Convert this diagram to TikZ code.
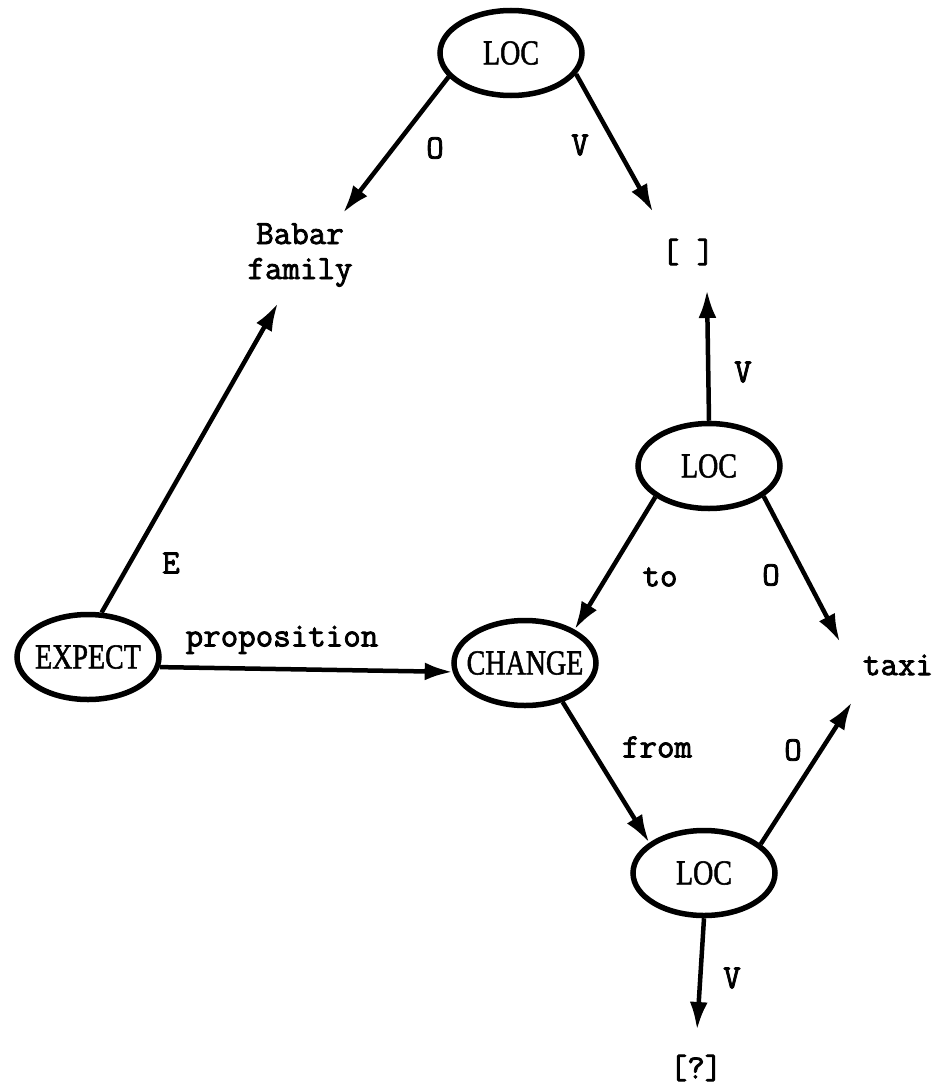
\documentclass[tikz,border=0pt]{standalone}
\usepackage{fontspec}
\usepackage{graphicx}
\setmainfont[FakeBold=1.6]{Liberation Serif}
\newfontfamily\twfont[FakeBold=2.4]{Latin Modern Mono}
\usetikzlibrary{arrows.meta,shapes.geometric}
\begin{document}
\begin{tikzpicture}[x=1pt,y=-1pt,
  state/.style={ellipse, draw, line width=5.5pt, minimum width=142pt, minimum height=85pt, inner sep=0pt,
    font=\fontsize{35}{38}\selectfont},
  word/.style={inner sep=0pt, font=\twfont\fontsize{34}{35}\selectfont, align=center},
  conn/.style={line width=4.5pt, -{Latex[length=28pt,width=18pt]}},
  bare/.style={line width=4.5pt}
]
\useasboundingbox (0,0) rectangle (941,1092);
\newcommand{\cond}[1]{\makebox[0pt]{\scalebox{0.8}[1]{#1}}}

% ellipse nodes
\node[state] (loctop) at (511,53) {\cond{LOC}};
\node[state] (locmid) at (709,466) {\cond{LOC}};
\node[state] (expect) at (88,657) {\cond{EXPECT}};
\node[state] (change) at (525,663) {\cond{CHANGE}};
\node[state] (locbot) at (704,873) {\cond{LOC}};

% text nodes
\node[word] (babar) at (300,255) {Babar\\family};
\node[word] (empty) at (688,252) {[ ]};
\node[word] (taxi) at (898,665) {taxi};
\node[word] (query) at (696,1068) {[?]};

% connectors
\draw[conn] (loctop.201) -- ([shift={(43,-42)}]babar.center);
\draw[conn] (loctop.342) -- ([shift={(-35,-40)}]empty.center);
\draw[conn] (expect.73) -- ([shift={(-22,48)}]babar.center);
\draw[conn] (expect.352) -- (change.187);
\draw[conn] (locmid.north) -- ([shift={(19,38)}]empty.center);
\draw[conn] (locmid.210) -- (change.34);
\draw[conn] (locmid.331) -- ([shift={(-58,-23)}]taxi.center);
\draw[conn] (change.314) -- (locbot.151);
\draw[conn] (locbot.27) -- ([shift={(-46,37)}]taxi.center);
\draw[conn] (locbot.south) -- ([shift={(1,-38)}]query.center);

% edge labels
\node[word] (lO1) at (435,148) {O};
\node[word] (lV1) at (580,145) {V};
\node[word] (lE) at (171,563) {E};
\node[word] (lprop) at (282,640) {proposition};
\node[word] (lV2) at (743,372) {V};
\node[word] (lto) at (660,577) {to};
\node[word] (lO2) at (771,575) {O};
\node[word] (lfrom) at (657,747) {from};
\node[word] (lO3) at (793,750) {O};
\node[word] (lV3) at (732,978) {V};
\end{tikzpicture}
\end{document}
